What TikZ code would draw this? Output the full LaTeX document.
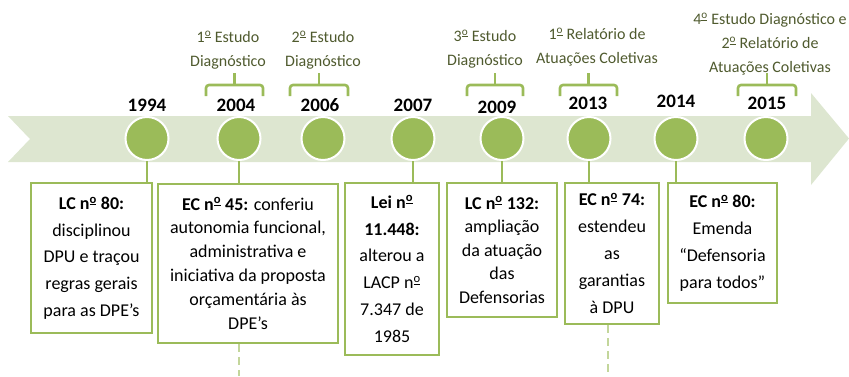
\documentclass[tikz,border=0pt]{standalone}
\usepackage{fontspec}
\setmainfont{Carlito}
\definecolor{band}{HTML}{DDE6D0}
\definecolor{leaf}{HTML}{9BBB59}
\definecolor{leaflight}{HTML}{C3D69B}
\definecolor{olive}{HTML}{4F5A2E}
\newcommand{\ordo}{\textsuperscript{\underline{o}}}
\tikzset{
  dot/.style={circle, fill=leaf, draw=white, line width=2pt, minimum size=43pt, inner sep=0pt},
  yearlbl/.style={font=\fontsize{19}{22}\selectfont\bfseries, text=black, inner sep=0pt},
  evbox/.style={draw=leaf, line width=2.6pt, fill=white, align=center, inner sep=0pt, text=black},
  stem/.style={leaf, line width=2pt},
  bracket/.style={leaf, line width=2.6pt, rounded corners=3pt},
  toplbl/.style={font=\fontsize{16}{24}\selectfont, text=olive, align=center, inner sep=0pt},
  trail/.style={leaflight, line width=2.6pt, dash pattern=on 8pt off 5pt}
}
\begin{document}
\begin{tikzpicture}[x=1pt,y=-1pt]
\useasboundingbox (0,0) rectangle (849,376);
% band arrow
\fill[band] (8,116) -- (811,116) -- (811,93) -- (849,138.5) -- (811,185) -- (811,162) -- (8,162) -- (30,139) -- cycle;
% circles
\node[dot] (c1) at (147,138.5) {};
\node[dot] (c2) at (239,138.5) {};
\node[dot] (c3) at (323,138.5) {};
\node[dot] (c4) at (413,138.5) {};
\node[dot] (c5) at (502,138.5) {};
\node[dot] (c6) at (589,138.5) {};
\node[dot] (c7) at (676,138.5) {};
\node[dot] (c8) at (766,138.5) {};
% years
\node[yearlbl] (y1) at (147,105) {1994};
\node[yearlbl] (y2) at (236,105) {2004};
\node[yearlbl] (y3) at (320,105) {2006};
\node[yearlbl] (y4) at (413,105) {2007};
\node[yearlbl] (y5) at (497,107) {2009};
\node[yearlbl] (y6) at (588,103) {2013};
\node[yearlbl] (y7) at (676,101) {2014};
\node[yearlbl] (y8) at (767,103) {2015};
% boxes
\node[evbox, minimum width=121pt, minimum height=150pt, font=\fontsize{18}{26.7}\selectfont] (b1) at (91.5,258)
  {\textbf{LC n\ordo{} 80:}\\disciplinou\\DPU e traçou\\regras gerais\\para as DPE’s};
\node[evbox, minimum width=180pt, minimum height=159pt, font=\fontsize{18}{23.8}\selectfont] (b2) at (248,263.5)
  {\textbf{EC n\ordo{} 45:} conferiu\\autonomia funcional,\\administrativa e\\iniciativa da proposta\\orçamentária às\\DPE’s};
\node[evbox, minimum width=94pt, minimum height=172pt, font=\fontsize{18}{26.8}\selectfont] (b3) at (392,269)
  {\textbf{Lei n\ordo}\\\textbf{11.448:}\\alterou a\\LACP n\ordo\\7.347 de\\1985};
\node[evbox, minimum width=110pt, minimum height=134pt, font=\fontsize{18}{23.5}\selectfont] (b4) at (502,250)
  {\textbf{LC n\ordo{} 132:}\\ampliação\\da atuação\\das\\Defensorias};
\node[evbox, minimum width=94pt, minimum height=141pt, font=\fontsize{18}{27}\selectfont] (b5) at (612,253.5)
  {\textbf{EC n\ordo{} 74:}\\estendeu\\as\\garantias\\à DPU};
\node[evbox, minimum width=109pt, minimum height=120pt, font=\fontsize{18}{27}\selectfont] (b6) at (722.5,243)
  {\textbf{EC n\ordo{} 80:}\\Emenda\\“Defensoria\\para todos”};
% stems
\draw[stem] (c1.south) -- (c1.south |- b1.north);
\draw[stem] (c2.south) -- (c2.south |- b2.north);
\draw[stem] (c4.south) -- (c4.south |- b3.north);
\draw[stem] (c5.south) -- (c5.south |- b4.north);
\draw[stem] (c6.south) -- (c6.south |- b5.north);
\draw[stem] (c7.south) -- (c7.south |- b6.north);
% dashed trails
\coordinate (e2) at (239,376);
\coordinate (e5) at (608,376);
\draw[trail] (b2.south -| e2) -- (e2);
\draw[trail] (b5.south -| e5) -- (e5);
% brackets
\draw[bracket] (206,96) -- (206,85) -- (263,85) -- (263,96);
\draw[bracket] (234.5,85) -- (234.5,73);
\draw[bracket] (290,96) -- (290,85) -- (348,85) -- (348,96);
\draw[bracket] (319,85) -- (319,73);
\draw[bracket] (467,96) -- (467,85) -- (523,85) -- (523,96);
\draw[bracket] (495,85) -- (495,73);
\draw[bracket] (560,96) -- (560,85) -- (617,85) -- (617,96);
\draw[bracket] (588.5,85) -- (588.5,73);
\draw[bracket] (738,96) -- (738,85) -- (796,85) -- (796,96);
\draw[bracket] (767,85) -- (767,73);
% top labels
\node[toplbl] (t1) at (228,50) {1\ordo{} Estudo\\Diagnóstico};
\node[toplbl] (t2) at (323,50) {2\ordo{} Estudo\\Diagnóstico};
\node[toplbl] (t3) at (485,49) {3\ordo{} Estudo\\Diagnóstico};
\node[toplbl] (t4) at (597,47) {1\ordo{} Relatório de\\Atuações Coletivas};
\node[toplbl] (t5) at (770,44) {4\ordo{} Estudo Diagnóstico e\\2\ordo{} Relatório de\\Atuações Coletivas};
\end{tikzpicture}
\end{document}
